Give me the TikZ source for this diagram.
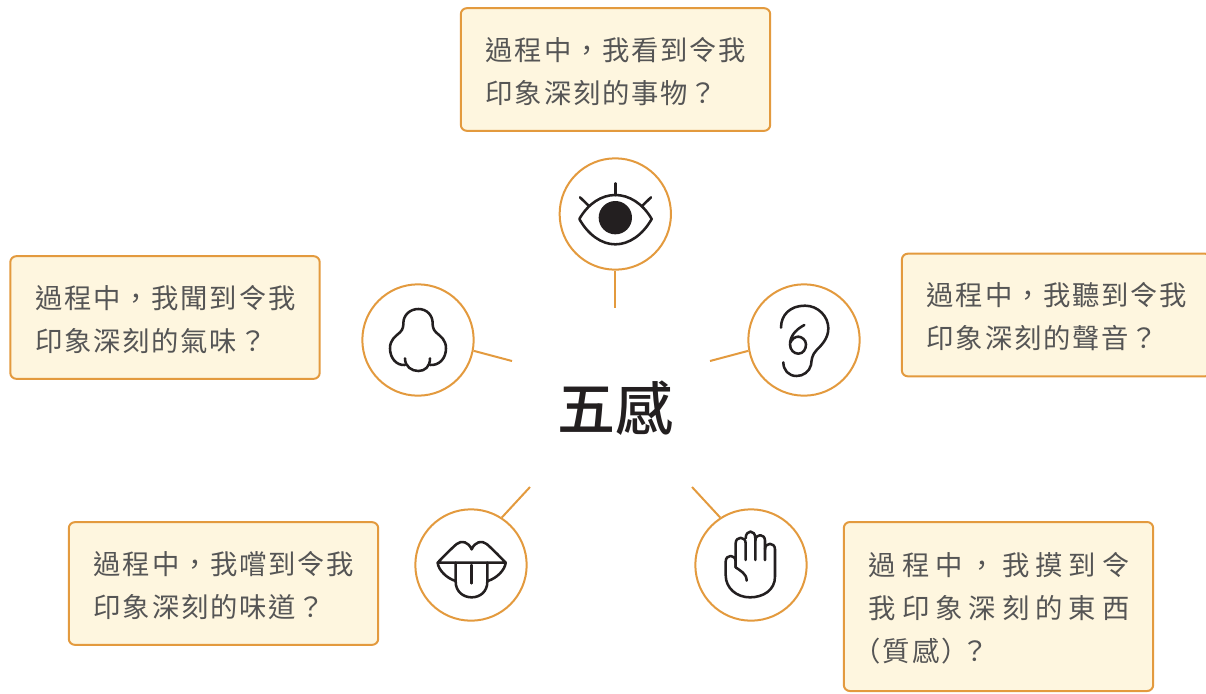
\documentclass[tikz,border=0pt]{standalone}
\usepackage{fontspec}
\setmainfont{Noto Sans CJK TC}
\newfontfamily\cjkspaced[LetterSpace=6.5]{Noto Sans CJK TC}
\newfontfamily\cjkwide[LetterSpace=22]{Noto Sans CJK TC}
\newfontfamily\cjktitle{Noto Sans CJK TC Medium}
\newcommand{\pline}[1]{\raisebox{-1.5pt}[\height][\depth]{#1}}
\definecolor{orangeline}{HTML}{E39A3E}
\definecolor{boxfill}{HTML}{FEF6DF}
\definecolor{txtgray}{HTML}{555555}
\definecolor{inkdark}{HTML}{231F20}
\tikzset{
  px/.style={x=0.75pt,y=-0.75pt},
  promptbox/.style={draw=orangeline,fill=boxfill,line width=1.5pt,rounded corners=4.5pt,
    text=txtgray,align=left,inner xsep=18.75pt,inner ysep=0pt,
    text width=194.5pt,minimum height=92pt,
    font={\fontsize{20.5}{32.25}\selectfont\cjkspaced}},
  iconcircle/.style={circle,draw=orangeline,line width=1.5pt,minimum size=83.5pt,inner sep=0pt,fill=white},
  link/.style={draw=orangeline,line width=1.5pt},
  iconline/.style={draw=inkdark,line width=1.9pt,line cap=round,line join=round},
  iconscale/.style={scale=1/3}
}
\begin{document}
\begin{tikzpicture}[px]
\useasboundingbox (0,0) rectangle (1206,693);
% boxes
\node[promptbox] (bTop) at (615.5,69.5) {\pline{過程中，我看到令我}\\\pline{印象深刻的事物？}};
\node[promptbox] (bNose) at (165,317.5) {\pline{過程中，我聞到令我}\\\pline{印象深刻的氣味？}};
\node[promptbox] (bEar) at (1056.5,315) {\pline{過程中，我聽到令我}\\\pline{印象深刻的聲音？}};
\node[promptbox] (bMouth) at (223.5,583.5) {\pline{過程中，我嚐到令我}\\\pline{印象深刻的味道？}};
\node[promptbox,minimum height=126.75pt,font={\fontsize{20.5}{32.25}\selectfont\cjkwide}] (bHand) at (998.5,606.5) {\pline{過程中，我摸到令}\\\pline{我印象深刻的東西}\\\hspace*{-11.25pt}\pline{\cjkspaced（質感）\hspace{-5pt}？}};
% centre
\node[font={\fontsize{43.5}{48}\selectfont\cjktitle},text=inkdark,inner sep=0pt] (title) at (615.5,408) {五感};
% circles
\node[iconcircle] (cEye) at (615.3,214) {};
\node[iconcircle] (cNose) at (418,340) {};
\node[iconcircle] (cEar) at (804,340) {};
\node[iconcircle] (cMouth) at (471,565) {};
\node[iconcircle] (cHand) at (751,565) {};
% connector ends
\coordinate (eEye) at (615.3,308);
\coordinate (eNose) at (512,361);
\coordinate (eEar) at (710,361);
\coordinate (eMouth) at (530,487);
\coordinate (eHand) at (692,487);
\draw[link] (cEye.south) -- (eEye);
\draw[link] (cNose.-11) -- (eNose);
\draw[link] (cEar.191) -- (eEar);
\draw[link] (cMouth.57) -- (eMouth);
\draw[link] (cHand.123) -- (eHand);
% eye
\begin{scope}[shift={(540,150)},iconscale]
\draw[iconline] (118,207) .. controls (145,160) and (185,135) .. (226,135) .. controls (267,135) and (308,160) .. (335,207) .. controls (308,255) and (267,283) .. (226,283) .. controls (185,283) and (145,255) .. (118,207) -- cycle;
\fill[inkdark] (226,203) circle [radius=50];
\draw[iconline] (226,100) -- (226,135);
\draw[iconline] (120,142) -- (147,168);
\draw[iconline] (333,142) -- (306,168);
\end{scope}
% nose
\begin{scope}[shift={(350,275)},iconscale]
\draw[iconline] (165,250) .. controls (165,275) and (185,288) .. (205,288) .. controls (225,288) and (240,275) .. (240,250);
\draw[iconline] (165,270) .. controls (140,272) and (120,250) .. (120,220) .. controls (120,195) and (135,185) .. (150,172) .. controls (160,163) and (160,150) .. (160,145) .. controls (160,120) and (180,102) .. (205,102) .. controls (230,102) and (248,120) .. (248,145) .. controls (248,150) and (248,163) .. (258,172) .. controls (273,185) and (288,195) .. (288,220) .. controls (288,250) and (268,272) .. (240,270);
\end{scope}
% ear
\begin{scope}[shift={(700,275)},iconscale]
\draw[iconline] (243,158) .. controls (243,120) and (270,92) .. (315,92) .. controls (355,92) and (385,125) .. (385,160) .. controls (385,190) and (365,210) .. (350,225) .. controls (335,240) and (335,255) .. (333,270) .. controls (328,290) and (310,303) .. (290,303) .. controls (265,303) and (250,285) .. (250,262);
\draw[iconline] (313,150) .. controls (285,165) and (270,185) .. (270,208) .. controls (270,225) and (282,236) .. (295,236) .. controls (310,236) and (318,222) .. (318,208) .. controls (318,195) and (305,185) .. (295,185) .. controls (285,185) and (275,192) .. (270,205);
\end{scope}
% mouth
\begin{scope}[shift={(405,480)},iconscale]
\draw[iconline] (98,248) .. controls (120,225) and (140,205) .. (155,192) .. controls (170,180) and (190,185) .. (200,208) .. controls (210,185) and (230,180) .. (245,192) .. controls (260,205) and (280,225) .. (302,248) -- cycle;
\draw[iconline] (98,248) .. controls (100,270) and (125,295) .. (152,303);
\draw[iconline] (302,248) .. controls (300,270) and (275,295) .. (248,303);
\draw[iconline] (152,248) -- (152,305) .. controls (152,335) and (175,352) .. (200,352) .. controls (225,352) and (247,335) .. (247,305) -- (247,248);
\draw[iconline] (200,255) -- (200,310);
\end{scope}
% hand
\begin{scope}[shift={(685,480)},iconscale]
\draw[iconline] (152,262) -- (152,190) .. controls (152,168) and (182,168) .. (182,190) -- (182,240);
\draw[iconline] (182,175) .. controls (182,148) and (211,148) .. (211,175) -- (211,240);
\draw[iconline] (211,182) .. controls (211,160) and (240,160) .. (240,182) -- (240,240);
\draw[iconline] (240,208) .. controls (240,186) and (270,186) .. (270,208) -- (270,290) .. controls (270,330) and (235,352) .. (195,352) .. controls (155,352) and (122,325) .. (122,285) -- (122,245) .. controls (122,222) and (152,222) .. (152,245) -- (152,262) .. controls (165,272) and (185,280) .. (185,302);
\end{scope}
\end{tikzpicture}
\end{document}
